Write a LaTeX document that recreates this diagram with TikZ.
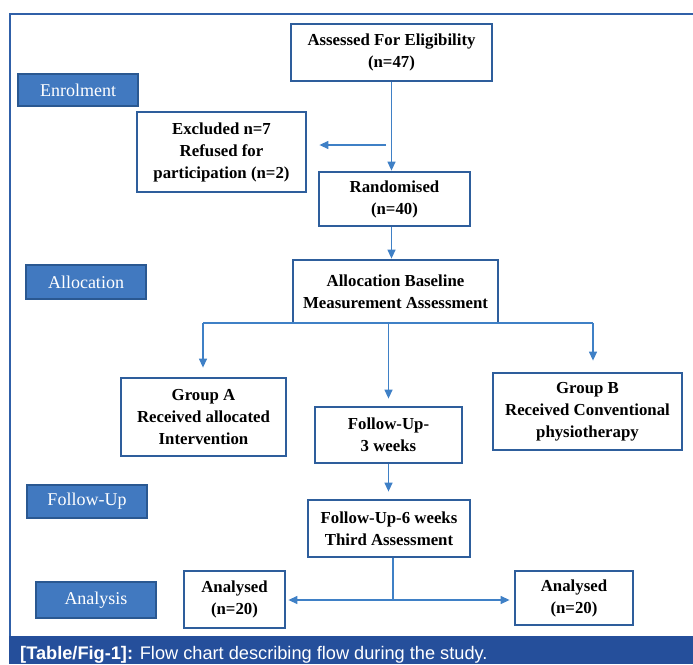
\documentclass[tikz,border=0pt]{standalone}
\usepackage{fontspec}
\setmainfont{Liberation Serif}
\newfontfamily\capfont{Liberation Sans}
\usetikzlibrary{arrows.meta}
\definecolor{boxblue}{HTML}{2E5E9C}
\definecolor{arrblue}{HTML}{3F80C6}
\definecolor{labfill}{HTML}{4179C0}
\definecolor{labdraw}{HTML}{2A5891}
\definecolor{capblue}{HTML}{254F9B}
\definecolor{frameblue}{HTML}{3060A8}
\begin{document}
\begin{tikzpicture}[x=1pt,y=-1pt,
  flowbox/.style={draw=boxblue, line width=2.8pt, fill=white, align=center,
    font=\fontsize{16.8}{22}\selectfont\bfseries, inner sep=0pt},
  phase/.style={draw=labdraw, line width=1.6pt, fill=labfill, text=white,
    font=\fontsize{18}{20}\selectfont, minimum width=120pt, inner sep=0pt},
  arr/.style={draw=arrblue, line width=1.3pt, -{Triangle[length=9pt,width=8pt]}},
  link/.style={draw=arrblue, line width=1.3pt}]
\useasboundingbox (0,0) rectangle (693,664);
% frame and caption band
\draw[frameblue, line width=1.5pt] (693,14) -- (10,14) -- (10,636);
\fill[capblue] (9,636) rectangle (693,664);
\node[anchor=base west, text=white, inner sep=0pt,
  font=\capfont\fontsize{18.2}{20}\selectfont] (cap) at (20,659)
  {\textbf{[Table/Fig-1]:} Flow chart describing flow during the study.};
% phase labels
\node[phase, minimum height=32pt] (enrol) at (78,90) {Enrolment};
\node[phase, minimum height=34pt] (alloclab) at (86,282) {Allocation};
\node[phase, minimum height=33pt] (follab) at (87,501.5) {Follow-Up};
\node[phase, minimum height=36pt] (analab) at (96,600) {Analysis};
% flow boxes
\node[flowbox, minimum width=201pt, minimum height=57pt] (assess) at (391.5,52.5) {Assessed For Eligibility\\(n=47)};
\node[flowbox, minimum width=169pt, minimum height=80pt] (excl) at (221.5,152) {Excluded n=7\\Refused for\\participation (n=2)};
\node[flowbox, minimum width=151pt, minimum height=54pt] (rand) at (394.5,199) {Randomised\\(n=40)};
\node[flowbox, minimum width=205pt, minimum height=63pt] (alloc) at (395.5,291.5) {Allocation Baseline\\Measurement Assessment};
\node[flowbox, minimum width=165pt, minimum height=78pt] (grpA) at (203.5,417) {Group A\\Received allocated\\Intervention};
\node[flowbox, minimum width=147pt, minimum height=56pt] (fu3) at (388.5,435) {Follow-Up-\\3 weeks};
\node[flowbox, minimum width=189pt, minimum height=77pt] (grpB) at (587.5,411.5) {Group B\\Received Conventional\\physiotherapy};
\node[flowbox, minimum width=162pt, minimum height=57pt] (fu6) at (389,528.5) {Follow-Up-6 weeks\\Third Assessment};
\node[flowbox, minimum width=101pt, minimum height=57pt] (anA) at (234.5,599.5) {Analysed\\(n=20)};
\node[flowbox, minimum width=118pt, minimum height=54pt] (anB) at (574,598) {Analysed\\(n=20)};
% connectors
\draw[arr] (assess.south) -- (assess.south |- rand.north);
\coordinate (exsrc) at (386,145);
\draw[arr, shorten >=12pt] (exsrc) -- (exsrc -| excl.east);
\draw[arr] (assess.south |- rand.south) -- (assess.south |- alloc.north);
\coordinate (ja) at (203,323);
\coordinate (jb) at (593,323);
\draw[link] (ja) -- (jb);
\draw[arr, shorten >=9pt] (ja) -- (ja |- grpA.north);
\draw[arr, shorten >=11pt] (jb) -- (jb |- grpB.north);
\draw[arr, shorten >=7pt] (fu3.north |- alloc.south) -- (fu3.north);
\draw[arr, shorten >=7pt] (fu3.south) -- (fu3.south |- fu6.north);
\coordinate (jn) at (393,600);
\draw[link] (fu6.south -| jn) -- (jn);
\draw[arr, shorten >=2pt] (jn) -- (jn -| anA.east);
\draw[arr, shorten >=4pt] (jn) -- (jn -| anB.west);
\end{tikzpicture}
\end{document}
